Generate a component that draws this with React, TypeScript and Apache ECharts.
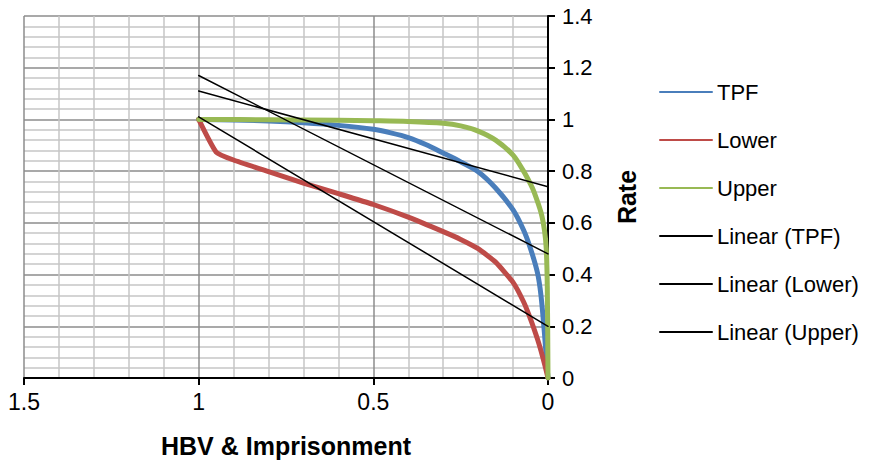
import React, { useEffect, useRef } from "react";
import * as echarts from "echarts";

// X values (HBV & Imprisonment) and Y values (Rate) for each series
const tpfX = [1, 0.9, 0.8, 0.7, 0.6, 0.5, 0.45, 0.4, 0.35, 0.3, 0.25, 0.2, 0.15, 0.1, 0.07, 0.05, 0.03, 0.02, 0.01, 0.005, 0];
const tpfY = [1, 0.998, 0.994, 0.987, 0.977, 0.962, 0.948, 0.93, 0.903, 0.87, 0.836, 0.798, 0.735, 0.65, 0.572, 0.5, 0.406, 0.318, 0.17, 0.08, 0];

const lowerX = [1, 0.95, 0.9, 0.8, 0.7, 0.6, 0.5, 0.4, 0.3, 0.25, 0.2, 0.15, 0.1, 0.07, 0.05, 0.03, 0.02, 0.01, 0];
const lowerY = [1, 0.874, 0.843, 0.798, 0.754, 0.713, 0.671, 0.622, 0.566, 0.536, 0.5, 0.448, 0.37, 0.295, 0.228, 0.15, 0.105, 0.055, 0];

const upperX = [1, 0.8, 0.6, 0.5, 0.4, 0.3, 0.25, 0.2, 0.15, 0.1, 0.07, 0.05, 0.04, 0.02, 0.01, 0.005, 0.002, 0];
const upperY = [1, 0.999, 0.997, 0.995, 0.992, 0.985, 0.975, 0.955, 0.92, 0.862, 0.8, 0.75, 0.72, 0.64, 0.57, 0.5, 0.35, 0];

// Linear trend lines (endpoints at x = 1 and x = 0)
const trendX = [1, 0];
const tpfTrendY = [1.17, 0.48];
const lowerTrendY = [1.01, 0.2];
const upperTrendY = [1.11, 0.74];

const seriesNames = ["TPF", "Lower", "Upper", "Linear (TPF)", "Linear (Lower)", "Linear (Upper)"];

const xTicks = { min: 0, max: 1.5, interval: 0.5 };
const yTicks = { min: 0, max: 1.4, interval: 0.2 };

const pairs = (xs: number[], ys: number[]) => xs.map((x, i) => [x, ys[i]]);

const FONT = "'Liberation Sans', Arial, sans-serif";

export default function App() {
  const ref = useRef<HTMLDivElement>(null);
  useEffect(() => {
    if (!ref.current) return;
    const chart = echarts.init(ref.current, null, { renderer: "svg" });
    const colorLine = (name: string, xs: number[], ys: number[], color: string, width: number, smooth: any) => ({
      name,
      type: "line",
      data: pairs(xs, ys),
      showSymbol: false,
      symbol: "none",
      smooth,
      lineStyle: { color, width, cap: "round", join: "round" },
      itemStyle: { color },
      z: width > 2 ? 3 : 4,
    });
    chart.setOption({
      animation: false,
      textStyle: { fontFamily: FONT },
      grid: { left: 24, right: 327, top: 16, bottom: 86, containLabel: false },
      legend: {
        orient: "vertical",
        left: 659,
        top: 81,
        padding: 0,
        itemWidth: 52,
        itemHeight: 20,
        itemGap: 26,
        data: seriesNames,
        itemStyle: { opacity: 0 },
        textStyle: { fontFamily: FONT, fontSize: 22, color: "#000", lineHeight: 20, height: 20 },
        selectedMode: false,
      },
      xAxis: {
        type: "value",
        inverse: true,
        min: xTicks.min,
        max: xTicks.max,
        interval: xTicks.interval,
        name: "HBV & Imprisonment",
        nameLocation: "middle",
        nameGap: 55,
        nameTextStyle: { fontFamily: FONT, fontSize: 25, fontWeight: "bold", color: "#000" },
        axisLine: { show: true, onZero: false, lineStyle: { color: "#000", width: 2 } },
        axisTick: { show: true, length: 7, lineStyle: { color: "#000", width: 2 } },
        axisLabel: { fontFamily: FONT, fontSize: 23, color: "#000", margin: 12, formatter: (v: number) => String(v) },
        splitLine: { show: true, lineStyle: { color: "#8c8c8c", width: 1.5 } },
        minorTick: { show: false, splitNumber: 5 },
        minorSplitLine: { show: true, lineStyle: { color: "#c6c6c6", width: 1.5 } },
      },
      yAxis: {
        type: "value",
        position: "right",
        min: yTicks.min,
        max: yTicks.max,
        interval: yTicks.interval,
        name: "Rate",
        nameLocation: "middle",
        nameRotate: 90,
        nameGap: 66,
        nameTextStyle: { fontFamily: FONT, fontSize: 25, fontWeight: "bold", color: "#000" },
        axisLine: { show: true, onZero: false, lineStyle: { color: "#000", width: 2 } },
        axisTick: { show: true, length: 7, lineStyle: { color: "#000", width: 2 } },
        axisLabel: { fontFamily: FONT, fontSize: 22, color: "#000", margin: 14, formatter: (v: number) => String(Math.round(v * 10) / 10) },
        splitLine: { show: true, lineStyle: { color: "#8c8c8c", width: 1.5 } },
        minorTick: { show: false, splitNumber: 5 },
        minorSplitLine: { show: true, lineStyle: { color: "#c6c6c6", width: 1.5 } },
      },
      series: [
        colorLine(seriesNames[0], tpfX, tpfY, "#4A7EBB", 5, 0.3),
        colorLine(seriesNames[1], lowerX, lowerY, "#BE4B48", 5, 0.15),
        colorLine(seriesNames[2], upperX, upperY, "#98B954", 5, 0.3),
        colorLine(seriesNames[3], trendX, tpfTrendY, "#000000", 1.5, false),
        colorLine(seriesNames[4], trendX, lowerTrendY, "#000000", 1.5, false),
        colorLine(seriesNames[5], trendX, upperTrendY, "#000000", 1.5, false),
      ],
    } as any);
    return () => chart.dispose();
  }, []);
  return <div ref={ref} style={{ position: "absolute", left: 0, top: 0, width: 875, height: 464 }} />;
}
